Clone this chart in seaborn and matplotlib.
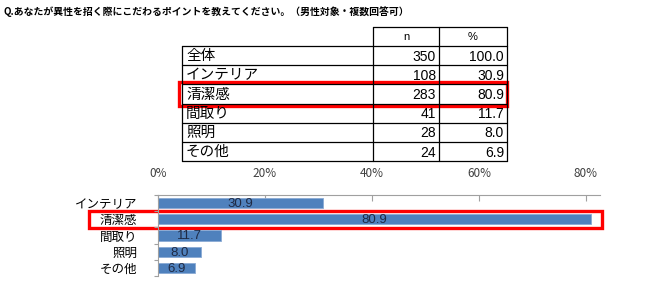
import matplotlib
matplotlib.use("Agg")
import matplotlib.pyplot as plt
import seaborn as sns
import pandas as pd
from matplotlib.patches import Rectangle

sns.set_theme(style="white")
plt.rcParams['font.family'] = ['Noto Sans CJK JP', 'DejaVu Sans']

title = "Q.あなたが異性を招く際にこだわるポイントを教えてください。（男性対象・複数回答可）"
table_labels = ["全体", "インテリア", "清潔感", "間取り", "照明", "その他"]
table_n = [350, 108, 283, 41, 28, 24]
table_pct = [100.0, 30.9, 80.9, 11.7, 8.0, 6.9]
col_headers = ["n", "%"]

categories = ["インテリア", "清潔感", "間取り", "照明", "その他"]
values = [30.9, 80.9, 11.7, 8.0, 6.9]
xticks = [0, 20, 40, 60, 80]
xtick_labels = ["0%", "20%", "40%", "60%", "80%"]

W, H = 655, 282
fig = plt.figure(figsize=(W / 100, H / 100), dpi=100)

# overlay axes in pixel coords
ov = fig.add_axes([0, 0, 1, 1])
ov.set_xlim(0, W)
ov.set_ylim(H, 0)
ov.axis("off")

ov.text(4, 12, title, fontsize=7.1, fontweight="bold", va="center", ha="left", color="black")

# table geometry
x_left, x_c1, x_c2, x_right = 182, 373, 439, 507
y_head_top = 27
row_h = 19.2
y_rows_top = 46
lw = 0.9
num_font = ["Liberation Sans", "DejaVu Sans"]
# header box
ov.plot([x_c1, x_right], [y_head_top, y_head_top], color="black", lw=lw)
for xx in (x_c1, x_c2, x_right):
    ov.plot([xx, xx], [y_head_top, y_rows_top], color="black", lw=lw)
ov.text((x_c1 + x_c2) / 2, (y_head_top + y_rows_top) / 2 + 1, col_headers[0], fontsize=8,
        ha="center", va="center", color="black", family=num_font)
ov.text((x_c2 + x_right) / 2, (y_head_top + y_rows_top) / 2 + 1, col_headers[1], fontsize=8,
        ha="center", va="center", color="black", family=num_font)
nrows = len(table_labels)
y_bottom = y_rows_top + nrows * row_h
for i in range(nrows + 1):
    yy = y_rows_top + i * row_h
    ov.plot([x_left, x_right], [yy, yy], color="black", lw=lw)
for xx in (x_left, x_c1, x_c2, x_right):
    ov.plot([xx, xx], [y_rows_top, y_bottom], color="black", lw=lw)
for i, (lab, n, p) in enumerate(zip(table_labels, table_n, table_pct)):
    yc = y_rows_top + (i + 0.5) * row_h + 0.5
    ov.text(x_left + 4, yc, lab, fontsize=10.5, ha="left", va="center", color="black")
    ov.text(x_c2 - 3, yc + 0.5, f"{n}", fontsize=10, ha="right", va="center", color="black",
            family=num_font)
    ov.text(x_right - 3, yc + 0.5, f"{p:.1f}", fontsize=10, ha="right", va="center", color="black",
            family=num_font)

# red boxes
ov.add_patch(Rectangle((179, 82), 507 - 179, 105.5 - 82, fill=False, edgecolor="#FF0000", lw=2.4))
ov.add_patch(Rectangle((89, 211), 602 - 89, 228 - 211, fill=False, edgecolor="#FF0000", lw=2.4, zorder=10))

# bar chart
ax_l, ax_r, ax_t, ax_b = 158, 600, 195, 276
ax = fig.add_axes([ax_l / W, (H - ax_b) / H, (ax_r - ax_l) / W, (ax_b - ax_t) / H])
df = pd.DataFrame({"cat": categories, "val": values})
sns.barplot(data=df, x="val", y="cat", orient="h", color="#4F81BD", width=0.63,
            edgecolor="#8AAAD4", linewidth=0.6, saturation=1, ax=ax)
ax.set_xlim(0, (ax_r - ax_l) / 5.35)
ax.set_ylim(len(categories) - 0.5, -0.5)
ax.set_xlabel("")
ax.set_ylabel("")
ax.xaxis.tick_top()
ax.set_xticks(xticks)
ax.set_xticklabels(xtick_labels, fontsize=8.5, color="#404040")
ax.tick_params(axis="x", direction="in", length=4, width=0.8, color="#A0A0A0", pad=11, top=True, bottom=False)
ax.set_yticks(range(len(categories)))
ax.set_yticklabels(categories, fontsize=9, color="black")
ax.tick_params(axis="y", length=0, pad=15)
ax.set_yticks([i - 0.5 for i in range(len(categories) + 1)], minor=True)
ax.tick_params(axis="y", which="minor", length=3, width=0.8, color="#A0A0A0", left=True)
for s in ("right", "bottom"):
    ax.spines[s].set_visible(False)
for s in ("left", "top"):
    ax.spines[s].set_color("#A0A0A0")
    ax.spines[s].set_linewidth(0.8)
ax.set_facecolor("none")
for i, v in enumerate(values):
    ax.text(v / 2, i + 0.05, f"{v:.1f}", ha="center", va="center", fontsize=9.5, color="#1F2A44",
            family=num_font)

fig.savefig("out.png", dpi=100)
